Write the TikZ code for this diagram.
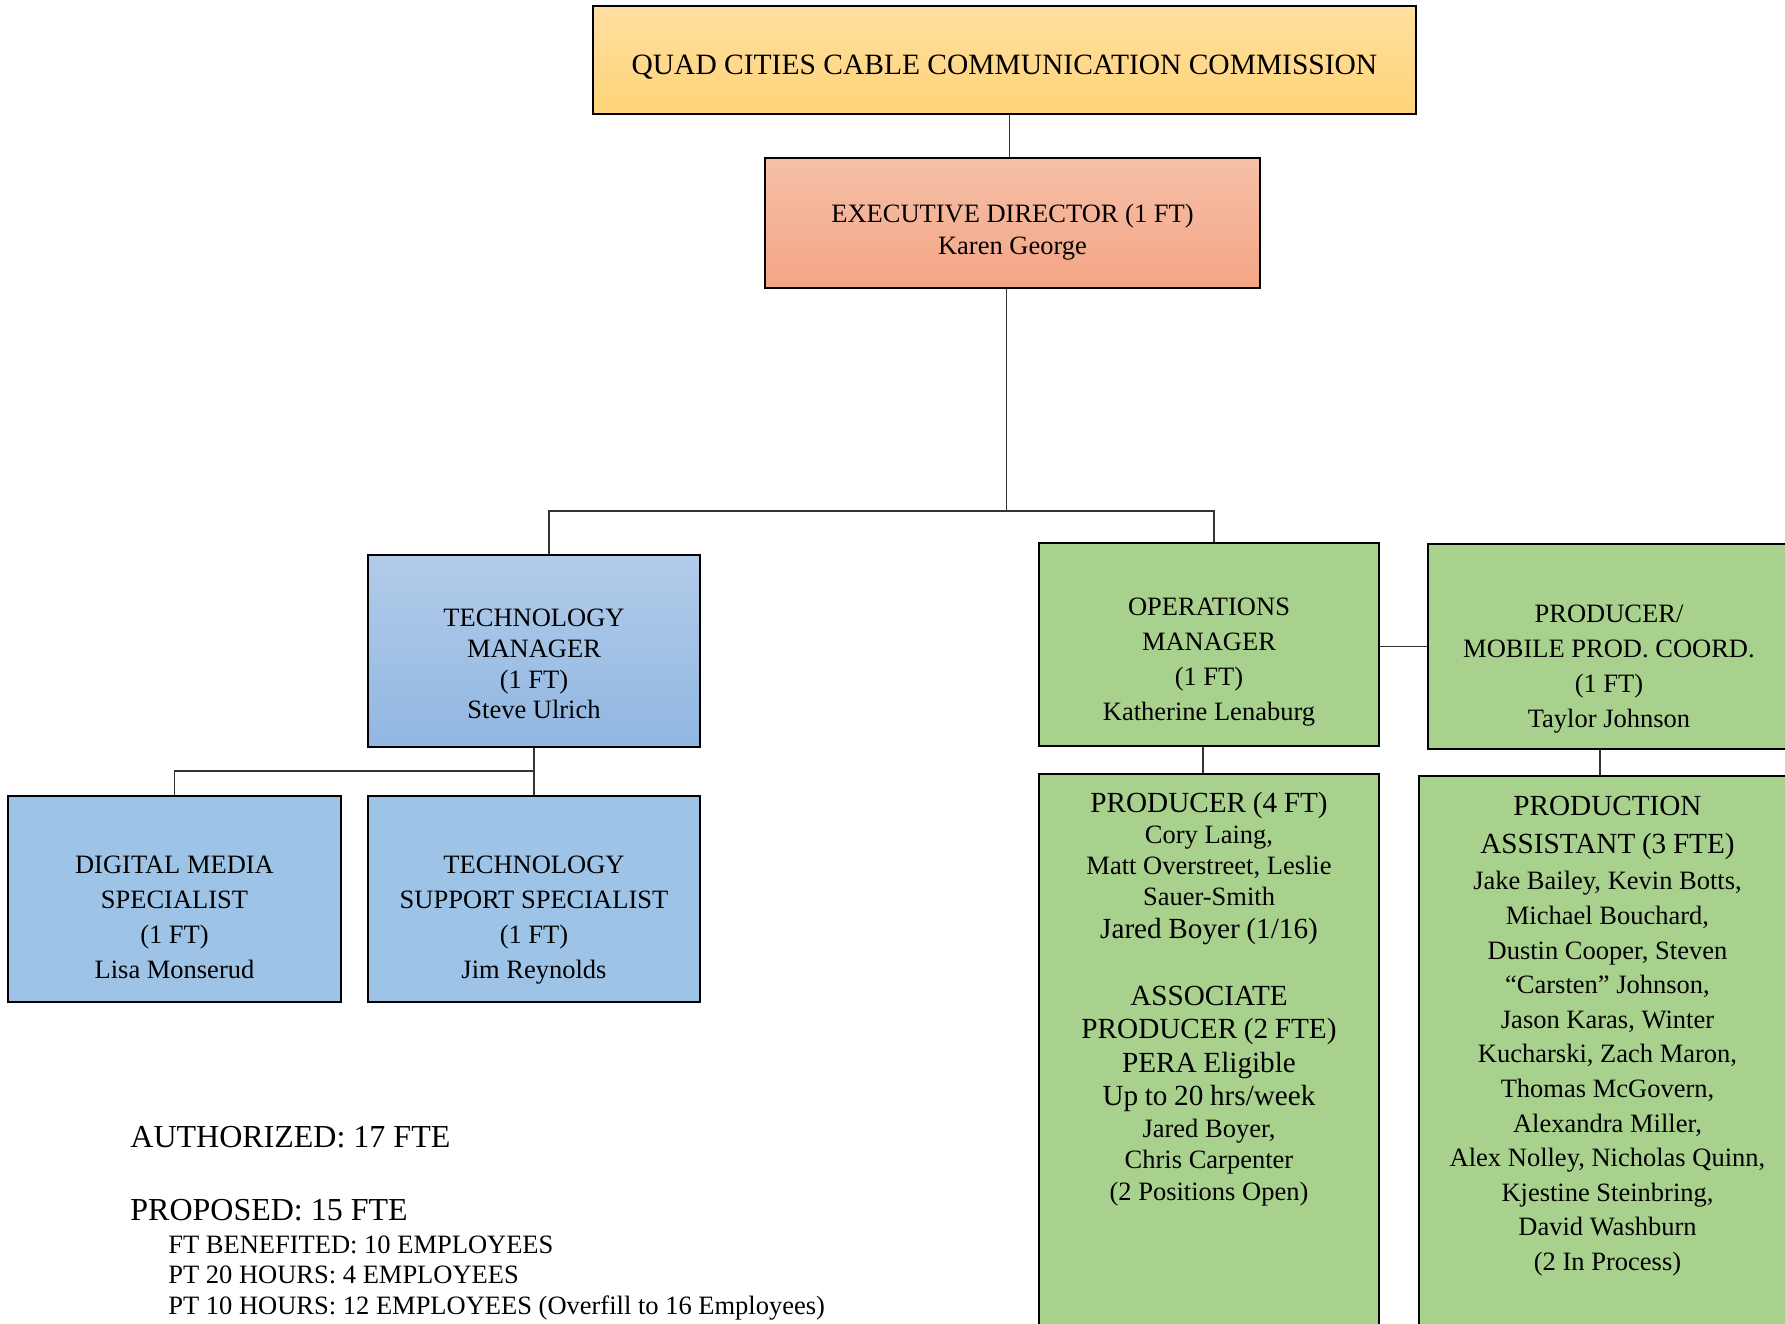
\documentclass[tikz,border=0pt]{standalone}
\usepackage{fontspec}
\setmainfont{Liberation Serif}
\definecolor{goldtop}{RGB}{255,224,160}
\definecolor{goldbot}{RGB}{255,212,121}
\definecolor{salmontop}{RGB}{246,192,168}
\definecolor{salmonbot}{RGB}{244,165,133}
\definecolor{steeltop}{RGB}{178,203,233}
\definecolor{steelbot}{RGB}{145,183,226}
\definecolor{skyblue}{RGB}{157,195,230}
\definecolor{leafgreen}{RGB}{169,209,142}
\newcommand{\rolesize}[1]{\fontsize{13.25}{#1}\selectfont}
\newcommand{\headsize}[1]{\fontsize{14.6}{#1}\selectfont}
\tikzset{
	orgbox/.style={draw=black, line width=1pt, inner sep=0pt},
	goldbox/.style={orgbox, top color=goldtop, bottom color=goldbot},
	salmonbox/.style={orgbox, top color=salmontop, bottom color=salmonbot},
	steelbox/.style={orgbox, top color=steeltop, bottom color=steelbot},
	skybox/.style={orgbox, fill=skyblue},
	leafbox/.style={orgbox, fill=leafgreen},
	roletext/.style={inner sep=0pt, align=center},
	link/.style={draw=black!80, line width=0.6pt},
	foottext/.style={inner sep=0pt, anchor=west, align=left},
}
\begin{document}
\begin{tikzpicture}
		\useasboundingbox (0,0) rectangle (892.5pt,-662pt);
		\clip (0,0) rectangle (892.5pt,-662pt);
			\node(commission)	[goldbox, minimum width=411.5pt, minimum height=54pt] at (502.25pt,-29.75pt) {};
			\node(exec)			[salmonbox, below of=commission, node distance=81.75pt, xshift=4pt, minimum width=247.5pt, minimum height=65pt] {};
			\node(techmgr)		[steelbox, below of=exec, node distance=214pt, xshift=-239.25pt, minimum width=166pt, minimum height=96pt] {};
			\node(techsup)		[skybox, below of=techmgr, node distance=124pt, minimum width=166pt, minimum height=103pt] {};
			\node(digital)		[skybox, left of=techsup, node distance=179.75pt, minimum width=166.5pt, minimum height=103pt] {};
			\node(ops)			[leafbox, below of=exec, node distance=210.75pt, xshift=98.25pt, minimum width=170pt, minimum height=101.5pt] {};
			\node(mobile)		[leafbox, right of=ops, node distance=200pt, yshift=-1pt, minimum width=181pt, minimum height=102.5pt] {};
			\node(producer)		[leafbox, below of=ops, node distance=206.25pt, minimum width=170pt, minimum height=283pt] {};
			\node(prodasst)		[leafbox, below of=mobile, node distance=205.75pt, xshift=-0.75pt, minimum width=188.5pt, minimum height=282pt] {};

			\node(commissiontxt)	[roletext, below of=commission, node distance=3.75pt, font=\fontsize{14.75}{17}\selectfont] {QUAD CITIES CABLE COMMUNICATION COMMISSION};
			\node(exectxt)		[roletext, below of=exec, node distance=4.5pt, font=\rolesize{16pt}] {EXECUTIVE DIRECTOR (1 FT)\\Karen George};
			\node(techmgrtxt)	[roletext, below of=techmgr, node distance=6.5pt, font=\rolesize{15.35pt}] {TECHNOLOGY\\MANAGER\\(1 FT)\\Steve Ulrich};
			\node(techsuptxt)	[roletext, below of=techsup, node distance=10.75pt, font=\rolesize{17.5pt}] {TECHNOLOGY\\SUPPORT SPECIALIST\\(1 FT)\\Jim Reynolds};
			\node(digitaltxt)	[roletext, below of=digital, node distance=9.25pt, font=\rolesize{17.5pt}] {DIGITAL MEDIA\\SPECIALIST\\(1 FT)\\Lisa Monserud};
			\node(opstxt)		[roletext, below of=ops, node distance=8.8pt, font=\rolesize{17.6pt}] {OPERATIONS\\MANAGER\\(1 FT)\\Katherine Lenaburg};
			\node(mobiletxt)	[roletext, below of=mobile, node distance=11.2pt, font=\rolesize{17.6pt}] {PRODUCER/\\MOBILE PROD. COORD.\\(1 FT)\\Taylor Johnson};
			\node(producertxt)	[roletext, anchor=north, text width=165pt] at ([yshift=-9.5pt]producer.north) {%
				{\headsize{16.5pt}PRODUCER (4 FT)\par}
				{\rolesize{15.4pt}Cory Laing,\\Matt Overstreet, Leslie\\Sauer-Smith\par}
				{\headsize{16.5pt}Jared Boyer (1/16)\par}
				\vspace{17pt}
				{\headsize{16.7pt}ASSOCIATE\\PRODUCER (2 FTE)\\PERA Eligible\\Up to 20 hrs/week\par}
				{\rolesize{15.8pt}Jared Boyer,\\Chris Carpenter\\(2 Positions Open)\par}};
			\node(prodassttxt)	[roletext, anchor=north, text width=184pt] at ([yshift=-10.5pt]prodasst.north) {%
				{\headsize{18.75pt}PRODUCTION\\ASSISTANT (3 FTE)\par}
				\vspace{1pt}
				{\rolesize{17.3pt}Jake Bailey, Kevin Botts,\\Michael Bouchard,\\Dustin Cooper, Steven\\``Carsten'' Johnson,\\Jason Karas, Winter\\Kucharski, Zach Maron,\\Thomas McGovern,\\Alexandra Miller,\\Alex Nolley, Nicholas Quinn,\\Kjestine Steinbring,\\David Washburn\\(2 In Process)\par}};

			\coordinate(split)		at ([xshift=-3pt, yshift=-144pt]exec.center);
			\coordinate(techsplit)	at ([yshift=-60pt]techmgr.center);
			\draw[link] ([xshift=-1.5pt]exec.north) -- ([xshift=-1.5pt]exec.north |- commission.south);
			\draw[link] (split |- exec.south) -- (split);
			\draw[link] ([xshift=7.5pt]techmgr.north) |- (split) -| ([xshift=2.5pt]ops.north);
			\draw[link] (techmgr.south) -- (techsup.north);
			\draw[link] (techsplit) -| (digital.north);
			\draw[link] (mobile.west -| ops.east) -- (mobile.west);
			\draw[link] ([xshift=-3pt]ops.south) -- ([xshift=-3pt]ops.south |- producer.north);
			\draw[link] ([xshift=-4.5pt]mobile.south) -- ([xshift=-4.5pt]mobile.south |- prodasst.north);

			\node(authorized)	[foottext, font=\fontsize{16}{19}\selectfont] at (65pt,-568.5pt) {AUTHORIZED: 17 FTE};
			\node(proposed)		[foottext, font=\fontsize{16}{19}\selectfont] at (65pt,-605pt) {PROPOSED: 15 FTE};
			\node(breakdown)	[foottext, font=\rolesize{15.25pt}] at (84pt,-639pt) {FT BENEFITED: 10 EMPLOYEES\\PT 20 HOURS: 4 EMPLOYEES\\PT 10 HOURS: 12 EMPLOYEES (Overfill to 16 Employees)};
\end{tikzpicture}
\end{document}
